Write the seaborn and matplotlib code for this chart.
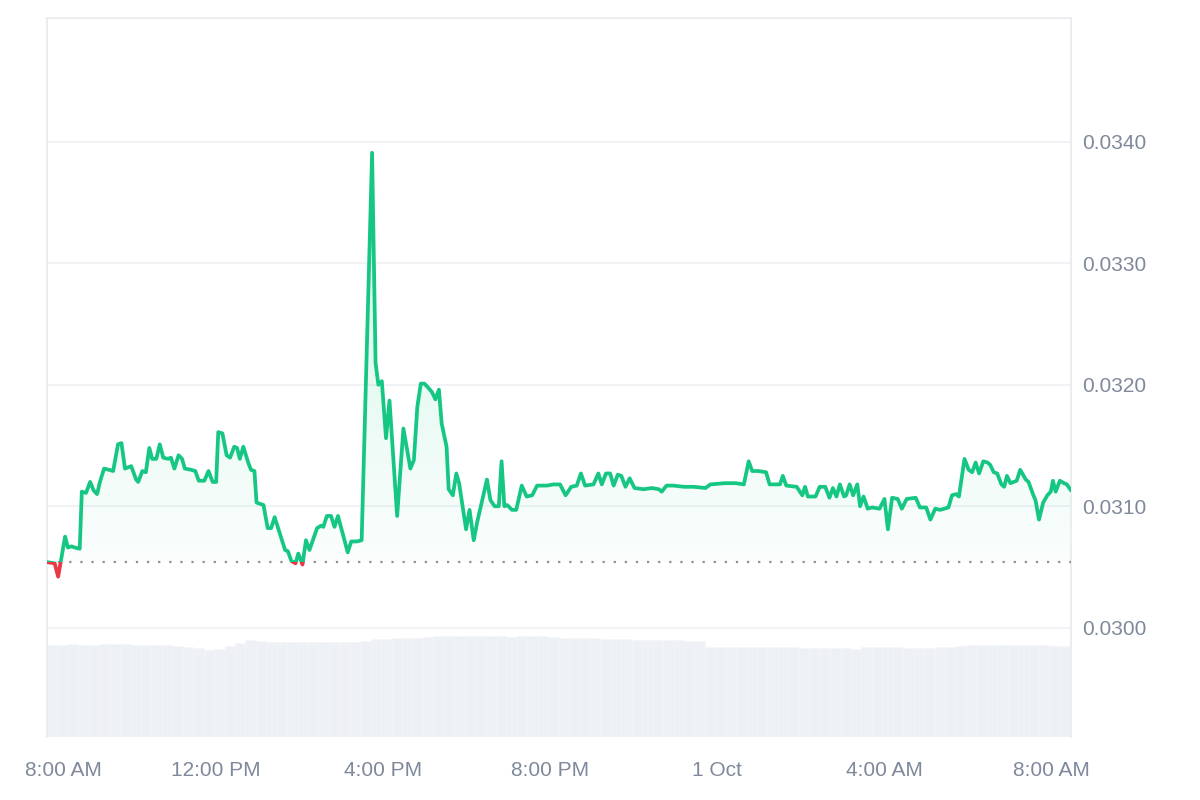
import numpy as np
import pandas as pd
import matplotlib
matplotlib.use("Agg")
import matplotlib.pyplot as plt
import matplotlib.dates as mdates
from matplotlib.patches import Rectangle, PathPatch
from matplotlib.path import Path
from matplotlib.transforms import blended_transform_factory, ScaledTranslation
import seaborn as sns

# price samples: minutes after 30 Sep 08:00, price in USD
minutes = [-3, 8, 13, 23, 27, 32, 37, 44, 47, 53, 59, 64, 69, 73, 79, 86, 92, 99, 104, 109,
           118, 125, 128, 134, 139, 144, 148, 154, 159, 164, 171, 175, 180, 186, 191, 195, 204, 210, 215, 223,
           229, 235, 240, 243, 249, 255, 260, 266, 270, 274, 279, 286, 290, 295, 298, 308, 314, 319, 324, 339,
           343, 348, 354, 358, 364, 369, 374, 385, 391, 394, 399, 405, 410, 415, 429, 434, 442, 449, 464, 469,
           473, 478, 484, 489, 500, 509, 519, 524, 529, 534, 539, 544, 550, 555, 560, 564, 571, 574, 580, 585,
           589, 599, 604, 610, 615, 619, 629, 634, 640, 646, 650, 654, 658, 665, 671, 679, 686, 694, 701, 715,
           725, 734, 742, 750, 758, 764, 770, 782, 789, 794, 800, 806, 811, 817, 822, 828, 834, 841, 854, 866,
           876, 880, 887, 897, 912, 926, 943, 950, 971, 986, 998, 1005, 1010, 1019, 1030, 1035, 1050, 1054, 1059, 1074,
           1082, 1086, 1090, 1101, 1107, 1115, 1121, 1126, 1131, 1136, 1142, 1145, 1150, 1155, 1161, 1165, 1170, 1176, 1182, 1193,
           1200, 1205, 1211, 1219, 1225, 1232, 1245, 1251, 1260, 1266, 1273, 1280, 1292, 1297, 1303, 1307, 1315, 1321, 1326, 1331,
           1336, 1342, 1348, 1352, 1357, 1362, 1368, 1372, 1376, 1381, 1390, 1395, 1403, 1407, 1414, 1417, 1422, 1428, 1434, 1439,
           1442, 1446, 1452, 1458, 1462, 1468]
price = [0.03054, 0.03053, 0.03042, 0.03075, 0.03066, 0.03067, 0.03066, 0.03065, 0.03112, 0.03111,
         0.03120, 0.03113, 0.03110, 0.03120, 0.03131, 0.03130, 0.03129, 0.03151, 0.03152, 0.03131,
         0.03133, 0.03122, 0.03120, 0.03129, 0.03128, 0.03148, 0.03139, 0.03139, 0.03151, 0.03140,
         0.03139, 0.03140, 0.03131, 0.03142, 0.03139, 0.03131, 0.03130, 0.03129, 0.03121, 0.03121,
         0.03129, 0.03120, 0.03120, 0.03161, 0.03160, 0.03142, 0.03140, 0.03149, 0.03148, 0.03139,
         0.03149, 0.03136, 0.03130, 0.03129, 0.03103, 0.03101, 0.03082, 0.03082, 0.03091, 0.03064,
         0.03063, 0.03055, 0.03053, 0.03061, 0.03052, 0.03072, 0.03064, 0.03082, 0.03084, 0.03083,
         0.03092, 0.03092, 0.03083, 0.03092, 0.03062, 0.03071, 0.03071, 0.03072, 0.03391, 0.03218,
         0.03200, 0.03203, 0.03156, 0.03187, 0.03092, 0.03164, 0.03131, 0.03138, 0.03182, 0.03201,
         0.03201, 0.03198, 0.03194, 0.03188, 0.03196, 0.03168, 0.03149, 0.03114, 0.03109, 0.03127,
         0.03119, 0.03081, 0.03097, 0.03072, 0.03087, 0.03097, 0.03122, 0.03105, 0.03100, 0.03100,
         0.03137, 0.03100, 0.03101, 0.03097, 0.03097, 0.03117, 0.03108, 0.03109, 0.03117, 0.03117,
         0.03118, 0.03118, 0.03109, 0.03116, 0.03117, 0.03127, 0.03117, 0.03118, 0.03127, 0.03118,
         0.03127, 0.03127, 0.03117, 0.03126, 0.03125, 0.03116, 0.03123, 0.03115, 0.03114, 0.03115,
         0.03114, 0.03112, 0.03117, 0.03117, 0.03116, 0.03116, 0.03115, 0.03118, 0.03119, 0.03119,
         0.03118, 0.03137, 0.03129, 0.03129, 0.03128, 0.03118, 0.03118, 0.03125, 0.03117, 0.03116,
         0.03109, 0.03116, 0.03108, 0.03108, 0.03116, 0.03116, 0.03107, 0.03115, 0.03108, 0.03118,
         0.03108, 0.03109, 0.03118, 0.03109, 0.03118, 0.03100, 0.03108, 0.03098, 0.03099, 0.03098,
         0.03106, 0.03081, 0.03107, 0.03106, 0.03098, 0.03106, 0.03107, 0.03099, 0.03099, 0.03089,
         0.03098, 0.03097, 0.03099, 0.03109, 0.03110, 0.03108, 0.03139, 0.03130, 0.03128, 0.03136,
         0.03127, 0.03137, 0.03136, 0.03134, 0.03128, 0.03127, 0.03118, 0.03116, 0.03125, 0.03119,
         0.03121, 0.03130, 0.03122, 0.03120, 0.03109, 0.03105, 0.03089, 0.03103, 0.03109, 0.03112,
         0.03121, 0.03112, 0.03121, 0.03119, 0.03118, 0.03113]
baseline = 0.030545

# volume bars, one per 15 minutes (arbitrary units)
volume = [92, 92, 93, 92, 92, 93, 93, 93, 92, 92, 92, 92, 91, 90, 89, 87, 88, 91, 94, 97,
          96, 95, 95, 95, 95, 95, 95, 95, 95, 95, 96, 98, 98, 99, 99, 99, 100, 101, 101, 101,
          101, 101, 101, 101, 100, 101, 101, 101, 100, 99, 99, 99, 99, 98, 98, 98, 97, 97, 97, 97,
          97, 96, 96, 90, 90, 90, 90, 90, 90, 90, 90, 90, 89, 89, 89, 89, 89, 88, 90, 90,
          90, 90, 89, 89, 89, 90, 90, 91, 92, 92, 92, 92, 92, 92, 92, 92, 91, 91, 91]

y_ticks = [0.0300, 0.0310, 0.0320, 0.0330, 0.0340]
x_tick_times = ["2024-09-30 08:00", "2024-09-30 12:00", "2024-09-30 16:00", "2024-09-30 20:00",
                "2024-10-01 00:00", "2024-10-01 04:00", "2024-10-01 08:00"]
x_tick_labels = ["8:00 AM", "12:00 PM", "4:00 PM", "8:00 PM", "1 Oct", "4:00 AM", "8:00 AM"]

start = pd.Timestamp("2024-09-30 08:00")
df = pd.DataFrame({"time": start + pd.to_timedelta(minutes, unit="min"), "price": price})
vol_times = pd.date_range(start + pd.Timedelta(minutes=-3), periods=len(volume), freq="15min")

GREEN = "#16c784"
RED = "#ea3943"
GRID = "#eef0f3"
TXT = "#7f899b"

sns.set_theme(style="white")
plt.rcParams["font.family"] = ["Liberation Sans", "DejaVu Sans"]

fig = plt.figure(figsize=(12, 8), dpi=100)
ax = fig.add_axes([47 / 1200, 1 - 737 / 800, 1024 / 1200, 719 / 800])
ax2 = ax.twinx()
ax.set_zorder(2)
ax2.set_zorder(1)
ax.patch.set_visible(False)

# volume
ax2.bar(vol_times, volume, width=15 / 1440, align="edge", color="#edf0f4",
        edgecolor="#f4f6f8", linewidth=0.4)
ax2.set_ylim(0, 719)
ax2.set_yticks([])
for s in ax2.spines.values():
    s.set_visible(False)

# price line, green above baseline, red below
sns.lineplot(data=df, x="time", y="price", ax=ax, color=GREEN, linewidth=2.7, estimator=None)
green_line = ax.lines[-1]
sns.lineplot(data=df, x="time", y="price", ax=ax, color=RED, linewidth=2.7, estimator=None)
red_line = ax.lines[-1]
blend = blended_transform_factory(ax.transAxes, ax.transData)
for ln, r in [(green_line, Rectangle((0, baseline), 1, 1, transform=blend)),
              (red_line, Rectangle((0, baseline - 1), 1, 1, transform=blend))]:
    ln.set_clip_path(r)
    ln.set_solid_joinstyle("round")
    ln.set_zorder(4)

# gradient fill between line and baseline
tnum = mdates.date2num(df["time"])
p = np.array(price)
coll = ax.fill_between(tnum, p, baseline, where=p >= baseline, interpolate=True,
                       facecolor="none", edgecolor="none")
clip = PathPatch(Path.make_compound_path(*coll.get_paths()), transform=ax.transData,
                 facecolor="none", edgecolor="none")
ax.add_patch(clip)
grad = np.zeros((256, 1, 4))
grad[..., 0], grad[..., 1], grad[..., 2] = 22 / 255, 199 / 255, 132 / 255
grad[:, 0, 3] = np.linspace(0.02, 0.2, 256)
im = ax.imshow(grad, extent=[tnum[0], tnum[-1], baseline, max(price)], origin="lower",
               aspect="auto", zorder=1, interpolation="bilinear")
im.set_clip_path(clip)

ax.axhline(baseline, color="#8e9196", linewidth=1.6, linestyle=(0, (1, 4)), zorder=3)

ax.set_xlim(tnum[0], tnum[-1])
ax.set_ylim(0.02910, 0.03502)
ax.set_aspect("auto")

ax.set_yticks(y_ticks)
ax.set_yticklabels([f"{v:.4f}" for v in y_ticks])
ax.yaxis.tick_right()
ax.grid(axis="y", color=GRID, linewidth=1.2)
ax.set_axisbelow(True)
ax.set_xticks(mdates.date2num(pd.to_datetime(x_tick_times)))
ax.set_xticklabels(x_tick_labels)
ax.tick_params(axis="y", length=0, pad=8, labelsize=15, labelcolor=TXT)
ax.tick_params(axis="x", length=0, pad=17, labelsize=15, labelcolor=TXT)
ax.set_xlabel("")
ax.set_ylabel("")
first = ax.xaxis.get_major_ticks()[0].label1
first.set_transform(first.get_transform() + ScaledTranslation(0.14, 0, fig.dpi_scale_trans))

for side in ["left", "right", "top"]:
    ax.spines[side].set_visible(True)
    ax.spines[side].set_color("#e8eaee")
    ax.spines[side].set_linewidth(1.2)
ax.spines["bottom"].set_visible(False)

fig.savefig("out.png", dpi=100, facecolor="white")
